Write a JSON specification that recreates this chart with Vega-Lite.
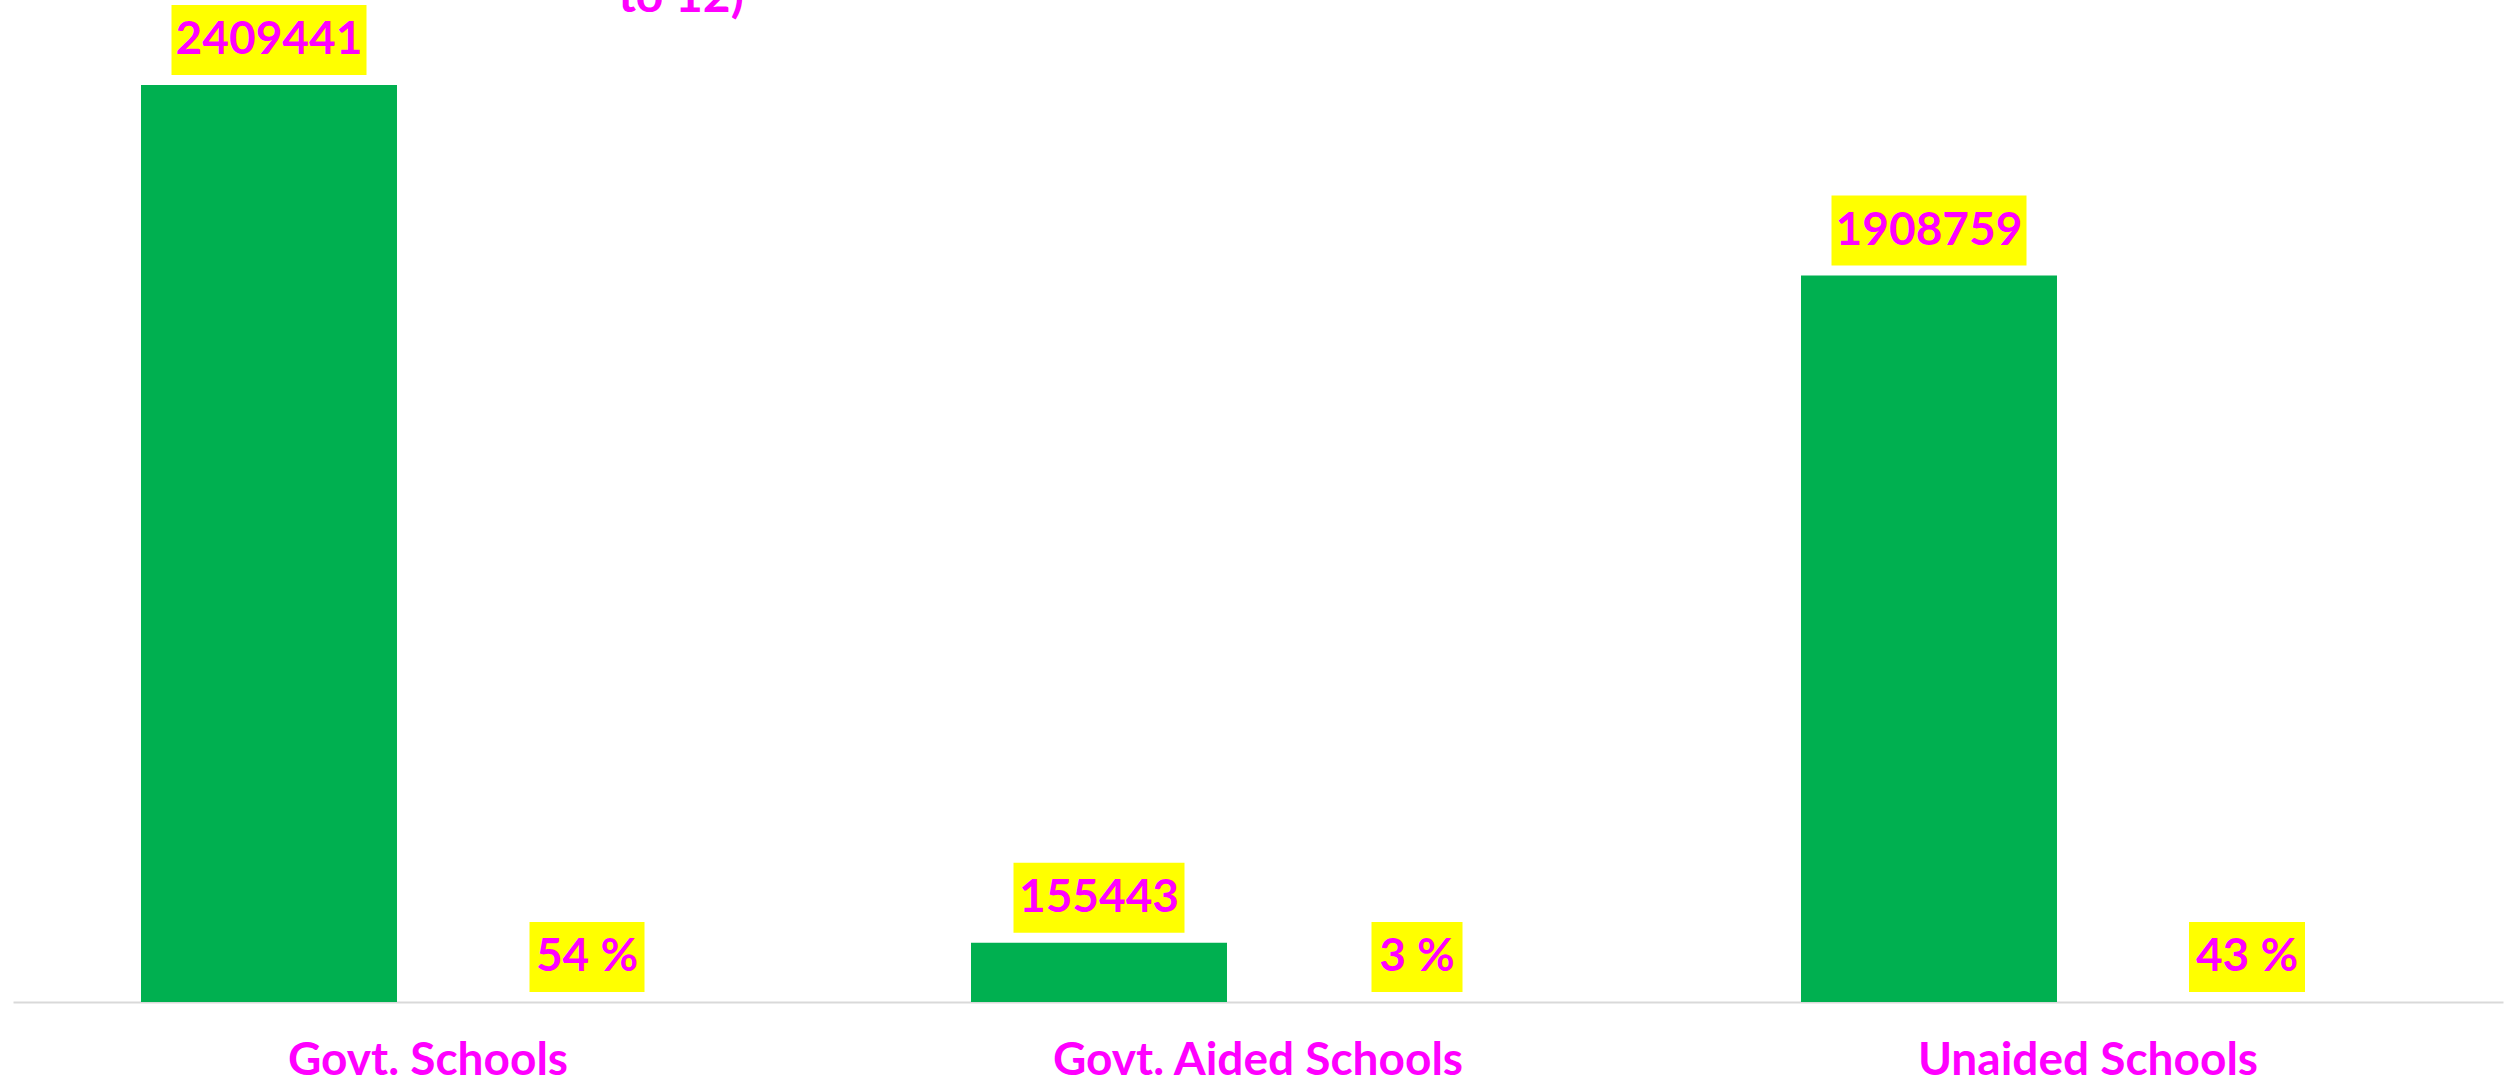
{
  "$schema": "https://vega.github.io/schema/vega-lite/v6.json",
  "width": 2490,
  "height": 1002,
  "autosize": {"type": "none"},
  "padding": {"left": 13, "right": 7, "top": 0, "bottom": 89},
  "background": "white",
  "config": {"view": {"stroke": null}},
  "title": {
    "text": "to 12)",
    "color": "#FF00FF",
    "font": "Lato",
    "fontSize": 48,
    "fontWeight": "bold",
    "anchor": "start",
    "frame": "group",
    "align": "center",
    "baseline": "alphabetic",
    "dx": 668,
    "offset": -60
  },
  "data": {
    "values": [
      {"category": "Govt. Schools", "series": "Enrolment", "value": 2409441, "label": "2409441"},
      {"category": "Govt. Schools", "series": "Percentage", "value": 54, "label": "54 %"},
      {"category": "Govt. Aided Schools", "series": "Enrolment", "value": 155443, "label": "155443"},
      {"category": "Govt. Aided Schools", "series": "Percentage", "value": 3, "label": "3 %"},
      {"category": "Unaided Schools", "series": "Enrolment", "value": 1908759, "label": "1908759"},
      {"category": "Unaided Schools", "series": "Percentage", "value": 43, "label": "43 %"}
    ]
  },
  "encoding": {
    "x": {
      "field": "category",
      "type": "nominal",
      "sort": null,
      "scale": {"paddingInner": 0, "paddingOuter": 0},
      "axis": {
        "title": null,
        "labelAngle": 0,
        "labelColor": "#FF00FF",
        "labelFont": "Lato",
        "labelFontSize": 46,
        "labelFontWeight": "bold",
        "labelBaseline": "middle",
        "labelPadding": 58,
        "labelLimit": 0,
        "ticks": false,
        "tickSize": 0,
        "domainColor": "#D9D9D9",
        "domainWidth": 2,
        "grid": false
      }
    },
    "xOffset": {
      "field": "series",
      "type": "nominal",
      "sort": ["Enrolment", "Percentage"],
      "scale": {"paddingInner": 0.195, "paddingOuter": 0.4025}
    },
    "y": {
      "field": "value",
      "type": "quantitative",
      "scale": {"domain": [0, 2632800], "nice": false, "zero": true},
      "axis": null
    }
  },
  "layer": [
    {
      "transform": [{"filter": "datum.series === 'Enrolment'"}],
      "mark": {"type": "bar", "color": "#00B050"}
    },
    {
      "mark": {
        "type": "point",
        "filled": true,
        "fill": "#FFFF00",
        "opacity": 1,
        "size": 40000,
        "strokeWidth": 0,
        "yOffset": -45
      },
      "encoding": {
        "shape": {
          "field": "label",
          "type": "nominal",
          "legend": null,
          "scale": {
            "domain": ["2409441", "54 %", "155443", "3 %", "1908759", "43 %"],
            "range": [
              "M-0.975,-0.35H0.975V0.35H-0.975Z",
              "M-0.575,-0.35H0.575V0.35H-0.575Z",
              "M-0.855,-0.35H0.855V0.35H-0.855Z",
              "M-0.455,-0.35H0.455V0.35H-0.455Z",
              "M-0.975,-0.35H0.975V0.35H-0.975Z",
              "M-0.58,-0.35H0.58V0.35H-0.58Z"
            ]
          }
        }
      }
    },
    {
      "mark": {
        "type": "text",
        "color": "#FF00FF",
        "font": "Lato",
        "fontSize": 46,
        "fontWeight": "bold",
        "baseline": "middle",
        "align": "center",
        "yOffset": -45
      },
      "encoding": {"text": {"field": "label"}}
    }
  ]
}
